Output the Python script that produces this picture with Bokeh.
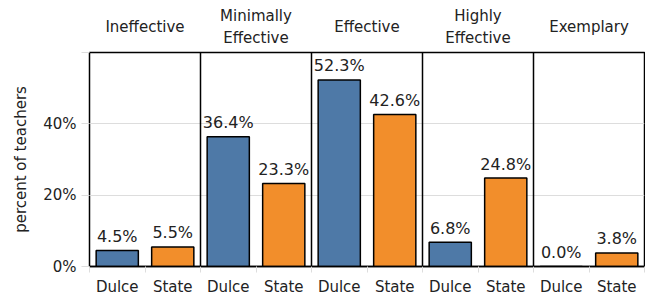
from bokeh.plotting import figure
from bokeh.models import FixedTicker, Span, ColumnDataSource, Range1d
from bokeh.layouts import column
from bokeh.embed import file_html
from bokeh.resources import INLINE
from bokeh.core.properties import value

categories = ["Ineffective", "Minimally\nEffective", "Effective", "Highly\nEffective", "Exemplary"]
groups = ["Dulce", "State"]
dulce = [4.5, 36.4, 52.3, 6.8, 0.0]
state = [5.5, 23.3, 42.6, 24.8, 3.8]
y_ticks = [0, 20, 40, 60]
y_tick_labels = ["0%", "20%", "40%", ""]

BLUE = "#4e79a7"
ORANGE = "#f28e2b"
FONT = "DejaVu Sans"
TXT = "#222222"
FRAME_W = 555
LEFT = 89
RIGHT = 1

n = len(categories)
xs, tops, colors, labels = [], [], [], []
for i in range(n):
    for j, (g, vals, c) in enumerate(zip(groups, [dulce, state], [BLUE, ORANGE])):
        xs.append(2 * i + j + 0.5)
        tops.append(vals[i])
        colors.append(c)
        labels.append(f"{vals[i]:.1f}%")
src = ColumnDataSource(dict(x=xs, top=tops, color=colors, label=labels))

# header strip with the category names
h = figure(frame_width=FRAME_W, frame_height=51, output_backend="svg", toolbar_location=None,
           x_range=Range1d(0, 2 * n), y_range=Range1d(0, 1),
           min_border_left=LEFT, min_border_right=RIGHT, min_border_top=0, min_border_bottom=0)
h.outline_line_color = None
h.axis.visible = False
h.grid.visible = False
hsrc = ColumnDataSource(dict(x=[2 * i + 1 for i in range(n)], y=[0.48] * n, t=categories))
h.text(x="x", y="y", text="t", source=hsrc, text_align="center", text_baseline="middle",
       text_font=value(FONT), text_font_size="15px", text_color=TXT, text_line_height=1.27)

p = figure(frame_width=FRAME_W, frame_height=214, output_backend="svg", toolbar_location=None,
           x_range=Range1d(0, 2 * n), y_range=Range1d(0, 60),
           min_border_left=LEFT, min_border_right=RIGHT, min_border_top=1, min_border_bottom=0)
p.outline_line_color = "black"
p.outline_line_width = 1.5
p.xgrid.visible = False
p.ygrid.ticker = FixedTicker(ticks=[20, 40])
p.ygrid.grid_line_color = "#dddddd"
p.ygrid.grid_line_width = 1

p.vbar(x="x", top="top", width=0.76, bottom=0, source=src, fill_color="color",
       line_color="black", line_width=1.5)
p.text(x="x", y="top", text="label", source=src, text_align="center",
       text_baseline="alphabetic", y_offset=-14, text_font=value(FONT),
       text_font_size="16px", text_color=TXT)

for k in range(1, n):
    p.add_layout(Span(location=2 * k, dimension="height", line_color="black", line_width=1.5))

xa = p.xaxis[0]
xa.ticker = FixedTicker(ticks=xs, minor_ticks=list(range(0, 2 * n + 1)))
xa.major_label_overrides = {x: groups[k % 2] for k, x in enumerate(xs)}
xa.major_tick_line_color = None
xa.major_tick_out = 0
xa.minor_tick_line_color = "#dddddd"
xa.minor_tick_out = 6
xa.minor_tick_in = 0
xa.axis_line_color = "black"
xa.axis_line_width = 1.5
xa.major_label_text_font = FONT
xa.major_label_text_font_size = "15px"
xa.major_label_text_color = TXT
xa.major_label_standoff = 5

ya = p.yaxis[0]
ya.ticker = FixedTicker(ticks=y_ticks, minor_ticks=[])
ya.major_label_overrides = {t: l for t, l in zip(y_ticks, y_tick_labels)}
ya.axis_line_color = None
ya.major_tick_line_color = "#dddddd"
ya.major_tick_out = 8
ya.major_tick_in = 0
ya.major_label_text_font = FONT
ya.major_label_text_font_size = "15px"
ya.major_label_text_color = TXT
ya.major_label_standoff = 5
ya.axis_label = "percent of teachers"
ya.axis_label_text_font = FONT
ya.axis_label_text_font_size = "15px"
ya.axis_label_text_font_style = "normal"
ya.axis_label_text_color = TXT
ya.axis_label_standoff = 10

layout = column(h, p, spacing=0)
open("out.html", "w").write(file_html(layout, INLINE))
